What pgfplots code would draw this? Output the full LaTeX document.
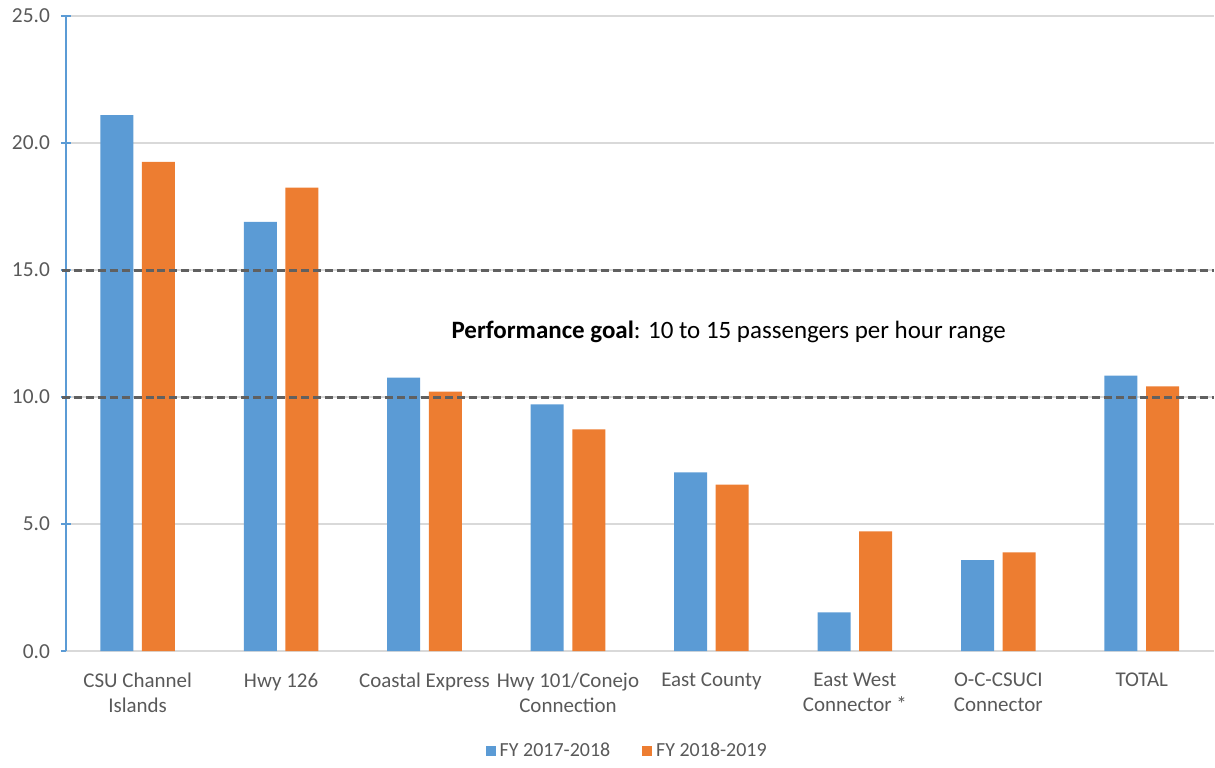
\documentclass[border=0pt]{standalone}
\usepackage{fontspec}
\setmainfont{Carlito}
\usepackage{pgfplots}
\pgfplotsset{compat=1.18}
\definecolor{fyblue}{HTML}{5B9BD5}
\definecolor{fyorange}{HTML}{ED7D31}
\definecolor{gridgray}{HTML}{D9D9D9}
\definecolor{labelgray}{HTML}{595959}
\definecolor{goalgray}{HTML}{606060}
\begin{document}
\begin{tikzpicture}
\begin{axis}[
    scale only axis,
    width=574.5pt, height=318pt,
    xmin=-0.5, xmax=7.5,
    ymin=0, ymax=25,
    ytick={0,5,10,15,20,25},
    xtick={0,1,2,3,4,5,6,7},
    xticklabels={CSU Channel\\Islands, Hwy 126, Coastal Express, Hwy 101/Conejo\\Connection, East County, East West\\Connector *, O-C-CSUCI\\Connector, TOTAL},
    xticklabel style={align=center, font=\fontsize{10.5}{12.5}\selectfont, text=labelgray, yshift=-5pt},
    yticklabel style={font=\fontsize{10.7}{12}\selectfont, text=labelgray, xshift=-2pt},
    /pgf/number format/assume math mode=true,
    yticklabel={\pgfmathprintnumber[fixed, fixed zerofill, precision=1]{\tick}},
    axis x line*=bottom, axis y line*=left,
    x axis line style={draw=gridgray, line width=0.8pt, -},
    y axis line style={draw=fyblue, line width=0.8pt, -},
    ymajorgrids, grid style={draw=gridgray, line width=0.7pt},
    major x tick style={draw=none},
    major y tick style={draw=fyblue, line width=0.8pt},
    tick align=center, major tick length=5pt,
    legend columns=2,
    legend style={draw=none, at={(axis description cs:0.49,-0.157)}, anchor=center,
        font=\fontsize{10}{12}\selectfont, text=labelgray,
        /tikz/every even column/.append style={column sep=14pt}},
    legend image code/.code={\fill[#1] (0pt,-2.5pt) rectangle (5pt,2.5pt);},
    clip=false,
]
\addplot[ybar, bar width=0.23, bar shift=-0.145, fill=fyblue, draw=none]
    coordinates {(0,21.1) (1,16.9) (2,10.77) (3,9.71) (4,7.04) (5,1.53) (6,3.58) (7,10.85)};
\addplot[ybar, bar width=0.23, bar shift=0.145, fill=fyorange, draw=none]
    coordinates {(0,19.26) (1,18.24) (2,10.22) (3,8.73) (4,6.56) (5,4.72) (6,3.89) (7,10.42)};
\legend{FY 2017-2018, FY 2018-2019}
\addplot[goalgray, line width=1.5pt, dash pattern=on 4pt off 2pt, forget plot]
    coordinates {(-0.53,15) (7.5,15)};
\addplot[goalgray, line width=1.5pt, dash pattern=on 4pt off 2pt, forget plot]
    coordinates {(-0.53,10) (7.5,10)};
\node[font=\fontsize{12.5}{14}\selectfont, text=black] at (axis cs:4.12,12.58)
    {\textbf{Performance goal}: 10 to 15 passengers per hour range};
% page margins as in the reference
\path (axis description cs:0,1) ++(-33pt,8pt) coordinate (tl);
\path (axis description cs:0,0) ++(-33pt,-55.5pt) coordinate (bl);
\end{axis}
\end{tikzpicture}
\end{document}
